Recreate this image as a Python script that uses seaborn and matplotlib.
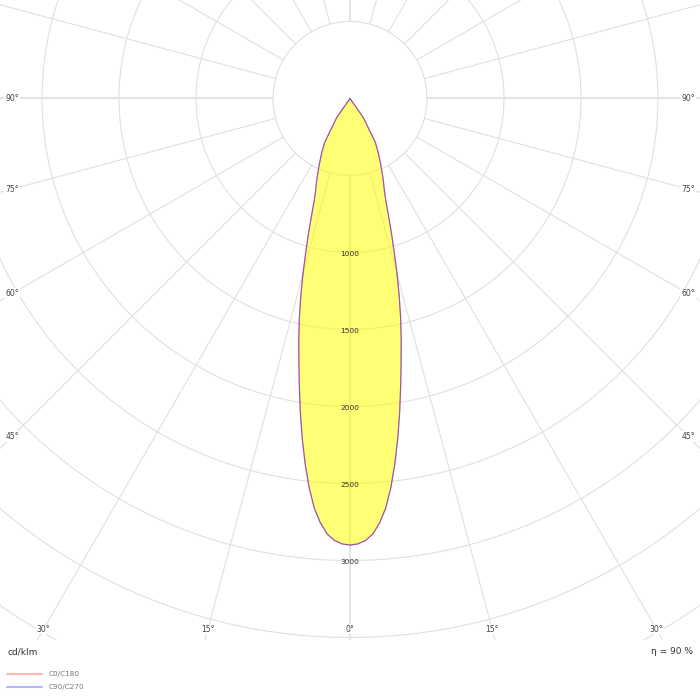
import numpy as np
import pandas as pd
import seaborn as sns
import matplotlib.pyplot as plt
from matplotlib.lines import Line2D

# photometric data (cd/klm), gamma in degrees from nadir
gamma = [0, 1, 2, 3, 4, 5, 6, 7, 8, 9, 10, 11, 12, 13, 14, 15, 16, 17, 18, 19, 20,
         22.5, 25, 27.5, 30, 35, 40]
c0_c180 = [2900, 2893, 2872, 2832, 2762, 2668, 2540, 2390, 2230, 2062, 1895, 1740, 1600,
           1462, 1320, 1182, 1045, 928, 818, 728, 662, 560, 472, 398, 330, 150, 0]
c90_c270 = [2900, 2893, 2872, 2832, 2762, 2668, 2540, 2390, 2230, 2062, 1895, 1740, 1600,
            1462, 1320, 1182, 1045, 928, 818, 728, 662, 560, 472, 398, 330, 150, 0]
plane_names = ['C0/C180', 'C90/C270']
plane_colors = ['#ff0000', '#3030ff']
legend_colors = ['#ffb8b8', '#b8b8ff']

ring_values = [500, 1000, 1500, 2000, 2500, 3000, 3500, 4000, 4500]
ring_labels = [1000, 1500, 2000, 2500, 3000]
side_angles = [90, 75, 60, 45]
bottom_angles = [30, 15, 0]
efficiency = 90

# scale: cd/klm per pixel
s = 500 / 77.0
x_half = 350 * s
y_top = 98.5 * s
y_bot = -(640 - 98.5) * s


def plane_curve(values):
    ang = [-g for g in gamma[::-1]] + gamma[1:]
    val = values[::-1] + values[1:]
    a = np.radians(ang)
    v = np.array(val, dtype=float)
    return v * np.sin(a), -v * np.cos(a)


rows = []
for name, vals in zip(plane_names, [c0_c180, c90_c270]):
    x, y = plane_curve(vals)
    for i in range(len(x)):
        rows.append({'plane': name, 'order': i, 'x': x[i], 'y': y[i]})
df = pd.DataFrame(rows)

sns.set_style('white')
plt.rcParams['font.family'] = ['DejaVu Sans']

fig = plt.figure(figsize=(7, 7), dpi=100)
ax = fig.add_axes([0, 60 / 700, 1, 640 / 700])
ax.set_xlim(-x_half, x_half)
ax.set_ylim(y_bot, y_top)
ax.set_aspect('equal')
ax.set_axis_off()

# grid rings and spokes
t = np.linspace(0, 2 * np.pi, 721)
for r in ring_values:
    ax.plot(r * np.cos(t), r * np.sin(t), color='#e0e0e0', lw=0.8, zorder=1)
for a in range(0, 360, 15):
    ar = np.radians(a)
    main = a % 90 == 0
    ax.plot([500 * np.sin(ar), 6000 * np.sin(ar)], [-500 * np.cos(ar), -6000 * np.cos(ar)],
            color='#e4e4e4' if main else '#e0e0e0', lw=1.6 if main else 0.8, zorder=1)

# luminous intensity lobe
x0, y0 = plane_curve(c0_c180)
ax.fill(x0, y0, color='#ffff00', alpha=0.54, lw=0, zorder=2)
sns.lineplot(data=df, x='x', y='y', hue='plane', units='plane', estimator=None, sort=False,
             palette=dict(zip(plane_names, plane_colors)), alpha=0.5, lw=0.85, legend=False,
             ax=ax, zorder=3)
ax.set_xlim(-x_half, x_half)
ax.set_ylim(y_bot, y_top)

# ring values
for r in ring_labels:
    ax.text(0, -r - 9, str(r), ha='center', va='center', fontsize=5.3, color='#333333', zorder=4)

# angle labels
xi = x_half - 12 * s
for a in side_angles:
    ar = np.radians(a)
    y = -xi * np.cos(ar) / np.sin(ar)
    for sgn in (-1, 1):
        ax.text(sgn * xi, y, f'{a}°', ha='center', va='center', fontsize=5.5, color='#444444',
                zorder=4, bbox=dict(fc='white', ec='none', pad=0.6))
yi = y_bot + 11 * s
for a in bottom_angles:
    xs = -yi * np.tan(np.radians(a))
    for sgn in ((-1, 1) if a else (1,)):
        ax.text(sgn * xs, yi, f'{a}°', ha='center', va='center', fontsize=5.5, color='#444444',
                zorder=4, bbox=dict(fc='white', ec='none', pad=0.6))

# footer texts and legend
fig.text(7 / 700, 1 - 652 / 700, 'cd/klm', ha='left', va='center', fontsize=6.5, color='#333333')
fig.text(693 / 700, 1 - 652 / 700, f'η = {efficiency} %', ha='right', va='center', fontsize=6.5,
         color='#333333')
for i, (name, col) in enumerate(zip(plane_names, legend_colors)):
    yy = 1 - (674 + 13 * i) / 700
    fig.add_artist(Line2D([7 / 700, 42 / 700], [yy, yy], transform=fig.transFigure, color=col, lw=1.5))
    fig.text(49 / 700, yy, name, ha='left', va='center', fontsize=5.2, color='#777777')

plt.savefig('out.png', dpi=100)
